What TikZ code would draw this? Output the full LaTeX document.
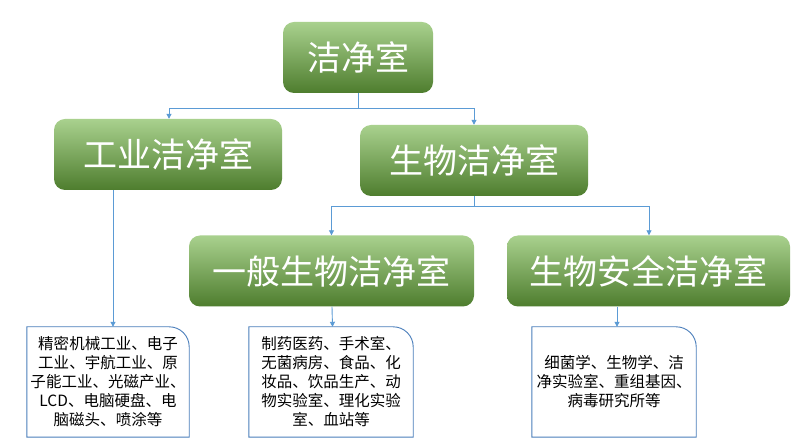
\documentclass[tikz,border=0pt]{standalone}
\usepackage{fontspec}
\setmainfont{Noto Sans CJK SC}
\usetikzlibrary{arrows.meta}
\definecolor{gtop}{HTML}{A9D18E}
\definecolor{gmid}{HTML}{70AD47}
\definecolor{gbot}{HTML}{4E7D2E}
\definecolor{lineblue}{HTML}{5B9BD5}
\definecolor{boxblue}{HTML}{4A7EBB}
\tikzset{
  greenbox/.style={rounded corners=11pt, top color=gtop, middle color=gmid, bottom color=gbot,
    draw=none, text=white, font=\fontsize{34}{38}\selectfont, minimum height=71pt, inner sep=0pt},
  infobox/.style={draw=none, minimum height=110pt, inner sep=0pt, align=center,
    font=\fontsize{15.5}{19}\selectfont, text=black},
  conn/.style={draw=lineblue, line width=0.9pt},
  arr/.style={conn, -{Triangle[length=5pt,width=5pt]}},
  outline/.style={draw=boxblue, line width=0.9pt}
}
\newcommand{\infoframe}[1]{%
  \draw[outline] (#1.south west) -- (#1.north west) -- ([xshift=-20pt]#1.north east)
    arc[start angle=90, end angle=0, radius=20pt] -- (#1.south east) -- cycle;}
\begin{document}
\begin{tikzpicture}[x=1pt,y=1pt]
\useasboundingbox[fill=white] (0,0) rectangle (800,444);
\node[greenbox, minimum width=150pt] (root) at (358,386.5) {洁净室};
\node[greenbox, minimum width=228pt] (ind) at (168,289.5) {工业洁净室};
\node[greenbox, minimum width=228pt] (bio) at (474,283.5) {生物洁净室};
\node[greenbox, minimum width=285pt] (gen) at (331.5,173) {一般生物洁净室};
\node[greenbox, minimum width=283pt] (safe) at (648.5,173) {生物安全洁净室};

\node[infobox, minimum width=162pt] (t1) at (108,62) {精密机械工业、电子\\工业、宇航工业、原\\子能工业、光磁产业、\\LCD、电脑硬盘、电\\脑磁头、喷涂等};
\node[infobox, minimum width=164pt] (t2) at (331,62) {制药医药、手术室、\\无菌病房、食品、化\\妆品、饮品生产、动\\物实验室、理化实验\\室、血站等};
\node[infobox, minimum width=164pt] (t3) at (614,62) {细菌学、生物学、洁\\净实验室、重组基因、\\病毒研究所等};
\infoframe{t1}
\infoframe{t2}
\infoframe{t3}

\coordinate (j1) at (358,336);
\coordinate (j2) at (474,238);
\draw[conn] (root.south) -- (j1);
\draw[arr] (j1) -| ([xshift=1pt]ind.north);
\draw[arr] (j1) -| (bio.north);
\draw[conn] (bio.south) -- (j2);
\draw[arr] (j2) -| (gen.north);
\draw[arr] (j2) -| ([xshift=0.5pt]safe.north);
\draw[arr] ([xshift=-55pt]ind.south) -- ([xshift=5pt]t1.north);
\draw[arr] ([xshift=0.5pt]gen.south) -- ([xshift=1.5pt]t2.north);
\draw[arr] ([xshift=-31.5pt]safe.south) -- ([xshift=3pt]t3.north);
\end{tikzpicture}
\end{document}
